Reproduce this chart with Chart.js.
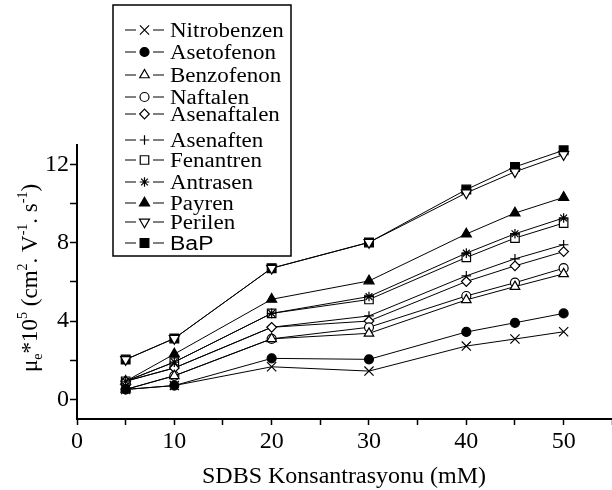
<!DOCTYPE html>
<html lang="en">
<head>
<meta charset="UTF-8" />
<title>SDBS mobility chart</title>
<script src="https://cdn.jsdelivr.net/npm/chart.js"></script>
<style>
  html, body { margin: 0; background: #ffffff; overflow: hidden; }
  canvas { display: block; }
</style>
</head>
<body>
<!-- canvas slightly wider than the window so the x axis (max 55) runs to the right edge -->
<canvas id="chart" width="620" height="490"></canvas>
<script>
// SDBS concentration (mM)
const konsantrasyon = [5, 10, 20, 30, 40, 45, 50];

const nitrobenzen  = [0.5, 0.7, 1.66, 1.44, 2.72, 3.08, 3.45];
const asetofenon   = [0.5, 0.7, 2.09, 2.04, 3.44, 3.91, 4.39];
const benzofenon   = [0.5, 1.2, 3.09, 3.37, 5.08, 5.76, 6.41];
const naftalen     = [0.5, 1.2, 3.09, 3.68, 5.28, 5.96, 6.70];
const asenaftalen  = [0.92, 1.6, 3.68, 4.0, 6.02, 6.82, 7.55];
const asenaften    = [0.92, 1.6, 3.68, 4.26, 6.31, 7.18, 7.90];
const fenantren    = [0.92, 1.9, 4.39, 5.1, 7.25, 8.24, 9.01];
const antrasen     = [0.92, 1.9, 4.39, 5.25, 7.47, 8.46, 9.27];
const payren       = [0.92, 2.31, 5.11, 6.05, 8.45, 9.52, 10.32];
const perilen      = [2.03, 3.11, 6.70, 8.02, 10.55, 11.63, 12.51];
const bap          = [2.03, 3.11, 6.70, 8.02, 10.72, 11.88, 12.73];

const xTicks = [0, 10, 20, 30, 40, 50];
const yTicks = [0, 4, 8, 12];

const serif = "'Liberation Serif', 'Times New Roman', serif";

function series(label, values, style, fill, radius, rotation) {
    return {
        label: label,
        data: konsantrasyon.map((x, i) => ({ x: x, y: values[i] })),
        borderColor: "#000",
        borderWidth: 1,
        pointStyle: style,
        pointRadius: radius,
        pointRotation: rotation || 0,
        pointBackgroundColor: fill,
        pointBorderColor: "#000",
        pointBorderWidth: 1.2,
        fill: false,
        tension: 0
    };
}

const datasets = [
    series("Nitrobenzen", nitrobenzen, "crossRot", "#000", 6.5),
    series("Asetofenon", asetofenon, "circle", "#000", 4.5),
    series("Benzofenon", benzofenon, "triangle", "#fff", 5.5),
    series("Naftalen", naftalen, "circle", "#fff", 4.5),
    series("Asenaftalen", asenaftalen, "rectRot", "#fff", 4.8),
    series("Asenaften", asenaften, "cross", "#000", 4.8),
    series("Fenantren", fenantren, "rect", "#fff", 6),
    series("Antrasen", antrasen, "star", "#000", 4.8),
    series("Payren", payren, "triangle", "#000", 5.8),
    series("Perilen", perilen, "triangle", "#fff", 5.8, 180),
    series("BaP", bap, "rect", "#000", 6.2)
];
datasets[7].order = -1; // asterisk drawn over the square

// legend rows (center y of each entry)
const legendRows = [30, 52, 75, 97, 114, 140, 160, 182, 203, 222, 243];

const legendPlugin = {
    id: "boxLegend",
    afterDraw(chart) {
        const ctx = chart.ctx;
        ctx.save();
        ctx.fillStyle = "#fff";
        ctx.fillRect(113, 5, 178, 251);
        ctx.strokeStyle = "#000";
        ctx.lineWidth = 1.5;
        ctx.strokeRect(113, 5, 178, 251);

        chart.data.datasets.forEach((ds, i) => {
            const y = legendRows[i];
            ctx.strokeStyle = "#000";
            ctx.lineWidth = 1;
            ctx.beginPath();
            ctx.moveTo(125, y); ctx.lineTo(136, y);
            ctx.moveTo(153, y); ctx.lineTo(164, y);
            ctx.stroke();

            ctx.fillStyle = ds.pointBackgroundColor;
            ctx.strokeStyle = "#000";
            ctx.lineWidth = 1.2;
            Chart.helpers.drawPoint(ctx, {
                pointStyle: ds.pointStyle,
                radius: ds.pointRadius,
                rotation: ds.pointRotation,
                borderWidth: 1.2
            }, 144.5, y);

            ctx.save();
            ctx.fillStyle = "#000";
            ctx.font = ds.label === "BaP" ? "20px 'Liberation Sans', Arial, sans-serif" : "20px " + serif;
            ctx.textBaseline = "alphabetic";
            ctx.textAlign = "left";
            ctx.translate(170, y + 7);
            ctx.scale(1.15, 1);
            ctx.fillText(ds.label, 0, 0);
            ctx.restore();
        });
        ctx.restore();
    }
};

// axis titles with sub/superscripts
const titlePlugin = {
    id: "axisTitles",
    afterDraw(chart) {
        const ctx = chart.ctx;
        ctx.save();
        ctx.fillStyle = "#000";
        ctx.textBaseline = "alphabetic";
        ctx.textAlign = "center";
        ctx.font = "24px " + serif;
        ctx.fillText("SDBS Konsantrasyonu (mM)", 344, 483);

        // y title, rotated
        ctx.translate(37, 372);
        ctx.rotate(-Math.PI / 2);
        ctx.textAlign = "left";
        const parts = [
            ["\u03bc", 0], ["e", 5], ["*10", 0], ["5", -10],
            [" (cm", 0], ["2", -10], [". V", 0], ["-1", -10],
            [". s", 0], ["-1", -10], [")", 0]
        ];
        let x = 0;
        parts.forEach(p => {
            ctx.font = (p[1] === 0 ? "23px " : "14px ") + serif;
            ctx.fillText(p[0], x, p[1]);
            x += ctx.measureText(p[0]).width;
        });
        ctx.restore();
    }
};

new Chart(document.getElementById("chart"), {
    type: "line",
    data: { datasets: datasets },
    options: {
        responsive: false,
        devicePixelRatio: 1,
        animation: false,
        layout: { padding: { top: 145, right: 0, left: 0, bottom: 0 } },
        plugins: { legend: { display: false }, tooltip: { enabled: false } },
        scales: {
            x: {
                type: "linear",
                min: 0,
                max: 55,
                afterFit(scale) { scale.height = 71; },
                ticks: {
                    stepSize: 5,
                    autoSkip: false,
                    maxRotation: 0,
                    color: "#000",
                    padding: 2,
                    font: { family: serif, size: 24 },
                    callback: v => xTicks.includes(v) ? String(v) : ""
                },
                grid: { drawOnChartArea: false, tickLength: 6, tickColor: "#000", tickWidth: 1.5 },
                border: { color: "#000", width: 2 }
            },
            y: {
                min: -1.01,
                max: 13,
                afterFit(scale) { scale.width = 77; },
                ticks: {
                    stepSize: 2,
                    includeBounds: false,
                    autoSkip: false,
                    color: "#000",
                    padding: 1,
                    font: { family: serif, size: 24 },
                    callback: v => yTicks.includes(v) ? String(v) : ""
                },
                grid: { drawOnChartArea: false, tickLength: 7, tickColor: "#000", tickWidth: 1.5 },
                border: { color: "#000", width: 2 }
            }
        }
    },
    plugins: [legendPlugin, titlePlugin]
});
</script>
</body>
</html>
